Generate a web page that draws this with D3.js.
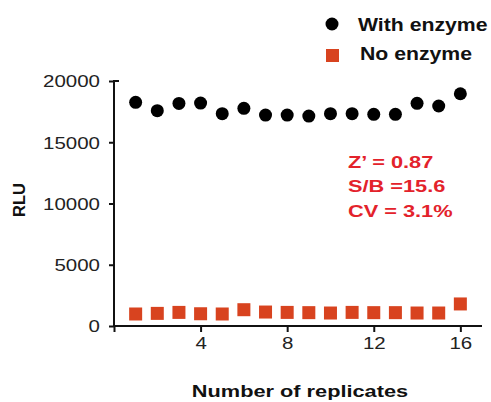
<!DOCTYPE html>
<html>
<head>
<meta charset="utf-8">
<script src="https://cdn.jsdelivr.net/npm/d3@7"></script>
<style>
  body { margin: 0; background: #fff; }
  svg { display: block; font-family: "Liberation Sans", Arial, sans-serif; }
</style>
</head>
<body>
<div class="chart"></div>
<script>
const replicates = d3.range(1, 17);
const withEnzyme = [18260, 17580, 18170, 18200, 17330, 17770, 17220, 17220, 17140, 17330, 17330, 17280, 17280, 18180, 17960, 18960];
const noEnzyme = [980, 1030, 1110, 1000, 980, 1330, 1140, 1110, 1090, 1060, 1110, 1090, 1090, 1060, 1060, 1800];
const xTicks = [0, 4, 8, 12, 16];
const yTicks = [0, 5000, 10000, 15000, 20000];
const stats = ['Z\u2019 = 0.87', 'S/B =15.6', 'CV = 3.1%'];
const legendLabels = ['With enzyme', 'No enzyme'];

const width = 491, height = 402;
const red = '#d8431f', statRed = '#e3222b';
const sx = 1.28; // text in the figure is drawn wide

const svg = d3.select('.chart').append('svg').attr('width', width).attr('height', height);

const x = d3.scaleLinear().domain([0, 17]).range([114, 482]);
const y = d3.scaleLinear().domain([0, 20000]).range([326, 81]);

// stretch text horizontally around its own anchor
const widen = (sel, s) =>
  sel.attr('transform', function () {
    const ax = +this.getAttribute('x') || 0;
    return `translate(${ax * (1 - s)},0) scale(${s},1)`;
  });

const xAxis = svg.append('g')
  .attr('transform', `translate(0,${y(0)})`)
  .call(d3.axisBottom(x).tickValues(xTicks).tickSize(6).tickPadding(6)
    .tickFormat(d => (d === 0 ? '' : d)));
const yAxis = svg.append('g')
  .attr('transform', `translate(${x(0)},0)`)
  .call(d3.axisLeft(y).tickValues(yTicks).tickSize(5).tickPadding(9).tickFormat(d3.format('d')));

[xAxis, yAxis].forEach(g => {
  g.select('.domain').attr('stroke', '#111').attr('stroke-width', 2);
  g.selectAll('.tick line').attr('stroke', '#111').attr('stroke-width', 2);
  g.selectAll('text').attr('font-size', 16).attr('fill', '#222').attr('font-family', null);
  widen(g.selectAll('text'), sx);
});
xAxis.select('.domain').attr('d', `M${x(0)},0H${x(17)}`);
yAxis.select('.domain').attr('d', `M0,${y(0) + 1}V${y(20000)}H5`);
yAxis.selectAll('.tick text').attr('dy', '0.36em');

svg.append('g').selectAll('circle')
  .data(withEnzyme)
  .join('circle')
  .attr('cx', (d, i) => x(replicates[i]))
  .attr('cy', d => y(d))
  .attr('r', 6.5)
  .attr('fill', '#000');

svg.append('g').selectAll('rect')
  .data(noEnzyme)
  .join('rect')
  .attr('x', (d, i) => x(replicates[i]) - 6.5)
  .attr('y', d => y(d) - 6.5)
  .attr('width', 13)
  .attr('height', 13)
  .attr('fill', red);

// axis titles
widen(svg.append('text')
  .attr('x', 300).attr('y', 397)
  .attr('text-anchor', 'middle')
  .attr('font-size', 17).attr('font-weight', 'bold').attr('fill', '#111')
  .text('Number of replicates'), sx);

svg.append('text')
  .attr('transform', 'translate(25,200) rotate(-90)')
  .attr('text-anchor', 'middle')
  .attr('font-size', 16.5).attr('font-weight', 'bold').attr('fill', '#111')
  .text('RLU');

// legend
const legend = svg.append('g');
legend.append('circle').attr('cx', 332).attr('cy', 24).attr('r', 6.5).attr('fill', '#000');
legend.append('rect').attr('x', 326).attr('y', 49).attr('width', 13).attr('height', 13).attr('fill', red);
legend.selectAll('text')
  .data(legendLabels)
  .join('text')
  .attr('x', (d, i) => (i ? 360 : 358))
  .attr('y', (d, i) => (i ? 60 : 31))
  .attr('font-size', 18).attr('font-weight', 'bold').attr('fill', '#111')
  .text(d => d)
  .call(sel => widen(sel, 1.18));

// statistics
svg.append('g').selectAll('text')
  .data(stats)
  .join('text')
  .attr('x', 348)
  .attr('y', (d, i) => 168 + i * 24.5)
  .attr('font-size', 17).attr('font-weight', 'bold').attr('fill', statRed)
  .text(d => d)
  .call(sel => widen(sel, sx));
</script>
</body>
</html>
